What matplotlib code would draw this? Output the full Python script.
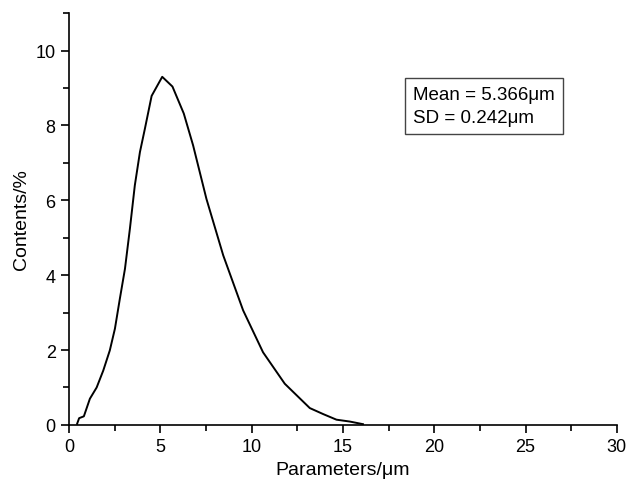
import numpy as np
import matplotlib.pyplot as plt
from matplotlib.ticker import MultipleLocator

# particle size distribution
size_um = [0.45, 0.56, 0.82, 1.15, 1.52, 1.88, 2.24, 2.52, 2.79, 3.07, 3.34,
           3.61, 3.89, 4.16, 4.53, 5.11, 5.67, 6.29, 6.80, 7.53, 8.45, 9.54,
           10.63, 11.82, 13.19, 13.92, 14.65, 15.38, 16.1]
content_pct = [0.03, 0.18, 0.23, 0.70, 1.00, 1.45, 1.99, 2.57, 3.37, 4.17, 5.24,
               6.40, 7.29, 7.91, 8.79, 9.30, 9.04, 8.32, 7.47, 6.04, 4.53, 3.06,
               1.94, 1.10, 0.45, 0.29, 0.14, 0.09, 0.02]

stats_text = "Mean = 5.366\u03bcm\nSD = 0.242\u03bcm"


def main():
    plt.rc("font", family="Liberation Sans", size=13)

    fig = plt.figure(figsize=(6.32, 4.89), dpi=100)
    ax = fig.add_axes([0.109, 0.129, 0.867, 0.842])

    ax.plot(size_um, content_pct, "-k", lw=1.4)

    ax.set_xlim(0, 30)
    ax.set_ylim(0, 11)
    ax.xaxis.set_major_locator(MultipleLocator(5))
    ax.xaxis.set_minor_locator(MultipleLocator(2.5))
    ax.yaxis.set_major_locator(MultipleLocator(2))
    ax.yaxis.set_minor_locator(MultipleLocator(1))
    ax.set_yticks([0, 2, 4, 6, 8, 10])
    ax.tick_params(which="major", direction="out", length=6, width=1.2)
    ax.tick_params(which="minor", direction="out", length=4, width=1.2)

    for side in ["top", "right"]:
        ax.spines[side].set_visible(False)
    for side in ["left", "bottom"]:
        ax.spines[side].set_linewidth(1.2)

    ax.set_xlabel("Parameters/\u03bcm", fontsize=14)
    ax.set_ylabel("Contents/%", fontsize=14)

    ax.text(18.85, 9.05, stats_text, fontsize=13.5, va="top", ha="left",
            linespacing=1.45,
            bbox=dict(boxstyle="square,pad=0.45", fc="white", ec="#444444", lw=1.0))

    fig.savefig("out.png", dpi=100)


if __name__ == "__main__":
    main()
